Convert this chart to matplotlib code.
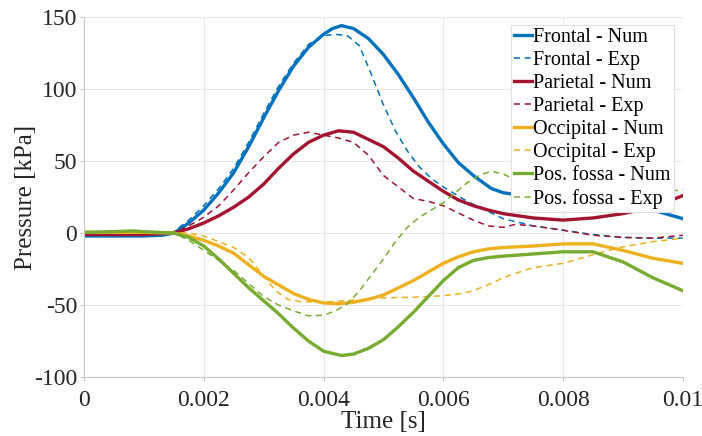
import matplotlib
matplotlib.use("Agg")
import matplotlib.pyplot as plt

plt.rcParams["font.family"] = ["Liberation Serif", "DejaVu Serif"]

COLORS = {
    "frontal": "#0072BD",
    "parietal": "#A2142F",
    "occipital": "#EDB120",
    "fossa": "#77AC30",
}

# ---- data (time in s, pressure in kPa) ----
frontal_num_t = [0, 0.0005, 0.001, 0.0013, 0.0015, 0.00175, 0.002, 0.00225, 0.0025, 0.00275,
                 0.003, 0.00325, 0.0035, 0.00375, 0.004, 0.00415, 0.0043, 0.0045, 0.00475, 0.005,
                 0.00525, 0.0055, 0.00575, 0.006, 0.00625, 0.0065, 0.0068, 0.007, 0.0075, 0.008,
                 0.0085, 0.009, 0.0095, 0.01]
frontal_num_p = [-2, -2, -2, -1.5, 0, 7, 16, 28, 42, 60,
                 80, 99, 116, 129, 138, 142, 144, 142, 135, 124,
                 110, 94, 77, 62, 49, 40, 31, 28, 25, 22,
                 20.5, 19, 16, 10]

frontal_exp_t = [0, 0.0005, 0.001, 0.0013, 0.0015, 0.00175, 0.002, 0.00225, 0.0025, 0.00275,
                 0.003, 0.00325, 0.0035, 0.00375, 0.004, 0.0042, 0.0044, 0.0046, 0.0048, 0.005,
                 0.0052, 0.0054, 0.0056, 0.0058, 0.006, 0.0062, 0.0064, 0.0066, 0.0068, 0.007,
                 0.0072, 0.0075, 0.008, 0.0085, 0.009, 0.0095, 0.01]
frontal_exp_p = [-1, -1, -1.5, -1, 1, 9, 19, 31, 45, 63,
                 83, 102, 118, 131, 137, 138, 137, 130, 110, 89,
                 71, 57, 46, 38, 32, 27, 22, 18, 14, 10,
                 8, 5, 2, -1, -3, -3.5, -3.5]

parietal_num_t = [0, 0.0005, 0.001, 0.0015, 0.00175, 0.002, 0.00225, 0.0025, 0.00275, 0.003,
                  0.00325, 0.0035, 0.00375, 0.004, 0.00425, 0.0045, 0.00475, 0.005, 0.00525, 0.0055,
                  0.00575, 0.006, 0.00625, 0.0065, 0.00675, 0.007, 0.0075, 0.008, 0.0085, 0.009,
                  0.0095, 0.01]
parietal_num_p = [-1, -1, -1, 0, 3, 7, 12, 18, 25, 34,
                  45, 55, 63, 68, 71, 70, 65, 60, 52, 43,
                  36, 29, 23, 19, 16, 13.5, 10.5, 9, 10.5, 13.5,
                  18, 26]

parietal_exp_t = [0, 0.0005, 0.001, 0.0015, 0.00175, 0.002, 0.00225, 0.0025, 0.00275, 0.003,
                  0.00325, 0.0035, 0.00375, 0.004, 0.00425, 0.0045, 0.00475, 0.005, 0.00525, 0.0055,
                  0.00575, 0.006, 0.00625, 0.0065, 0.00675, 0.007, 0.0072, 0.0075, 0.008, 0.0085,
                  0.009, 0.0095, 0.01]
parietal_exp_p = [-1, -1, -1, 0, 5, 11, 19, 30, 42, 53,
                  63, 68, 70, 68, 66, 63, 54, 40, 32, 24,
                  22, 19, 14, 9, 5, 4, 6, 5, 2, -1.5,
                  -3, -3.5, -1.5]

occipital_num_t = [0, 0.0005, 0.001, 0.0015, 0.00175, 0.002, 0.00225, 0.0025, 0.00275, 0.003,
                   0.00325, 0.0035, 0.00375, 0.004, 0.00425, 0.0045, 0.00475, 0.005, 0.00525, 0.0055,
                   0.00575, 0.006, 0.00625, 0.0065, 0.00675, 0.007, 0.0075, 0.008, 0.0085, 0.009,
                   0.0095, 0.01]
occipital_num_p = [0.5, 0.5, 0.5, 0, -2, -5, -9, -14, -22, -30,
                   -36, -42, -46, -48.5, -49, -48, -46, -43, -38, -33,
                   -27, -21, -16.5, -13, -11, -10, -9, -7.5, -7.5, -12,
                   -17.5, -21]

occipital_exp_t = [0, 0.0005, 0.001, 0.0015, 0.00175, 0.002, 0.00225, 0.0025, 0.00275, 0.003,
                   0.0032, 0.0034, 0.0036, 0.004, 0.0045, 0.005, 0.0055, 0.006, 0.0063, 0.0065,
                   0.0068, 0.007, 0.0072, 0.0075, 0.008, 0.0085, 0.009, 0.0095, 0.01]
occipital_exp_p = [0.5, 0.5, 0.5, 0.5, 0, -2, -6, -10, -17, -30,
                   -40, -46, -47.5, -48, -46.5, -45, -44.5, -43.5, -42, -40,
                   -35, -31, -28, -24, -21, -15, -9.5, -6, -3.5]

fossa_num_t = [0, 0.0005, 0.0008, 0.001, 0.0015, 0.00175, 0.002, 0.00225, 0.0025, 0.00275,
               0.003, 0.00325, 0.0035, 0.00375, 0.004, 0.0043, 0.0045, 0.00475, 0.005, 0.00525,
               0.0055, 0.00575, 0.006, 0.00625, 0.0065, 0.00675, 0.007, 0.0075, 0.008, 0.0085,
               0.009, 0.0095, 0.01]
fossa_num_p = [0.5, 1, 1.5, 1, 0, -3, -9, -18, -28, -38,
               -47, -56, -66, -75, -82, -85, -84, -80, -74, -65,
               -55, -44, -33, -24, -19, -17, -16, -14.5, -13, -13,
               -20, -31, -40]

fossa_exp_t = [0, 0.0005, 0.001, 0.0015, 0.00175, 0.002, 0.00225, 0.0025, 0.00275, 0.003,
               0.00325, 0.0035, 0.00375, 0.004, 0.0042, 0.0044, 0.0046, 0.0048, 0.005, 0.0052,
               0.0054, 0.0056, 0.0058, 0.006, 0.0062, 0.0064, 0.0066, 0.0068, 0.007, 0.0072,
               0.0075, 0.008, 0.0085, 0.009, 0.0095, 0.01]
fossa_exp_p = [0.5, 1, 1, 0, -5, -12, -19, -26, -35, -44,
               -50, -54, -57.5, -57, -54, -49, -40, -29, -18, -6,
               4, 11, 16, 21, 28, 35, 40, 43, 41, 37,
               33, 29, 27, 27, 28, 30]

x_ticks = [0, 0.002, 0.004, 0.006, 0.008, 0.01]
x_tick_labels = ["0", "0.002", "0.004", "0.006", "0.008", "0.01"]
y_ticks = [-100, -50, 0, 50, 100, 150]
y_tick_labels = ["-100", "-50", "0", "50", "100", "150"]

series = [
    (frontal_num_t, frontal_num_p, "frontal", "-", "Frontal - Num"),
    (frontal_exp_t, frontal_exp_p, "frontal", "--", "Frontal - Exp"),
    (parietal_num_t, parietal_num_p, "parietal", "-", "Parietal - Num"),
    (parietal_exp_t, parietal_exp_p, "parietal", "--", "Parietal - Exp"),
    (occipital_num_t, occipital_num_p, "occipital", "-", "Occipital - Num"),
    (occipital_exp_t, occipital_exp_p, "occipital", "--", "Occipital - Exp"),
    (fossa_num_t, fossa_num_p, "fossa", "-", "Pos. fossa - Num"),
    (fossa_exp_t, fossa_exp_p, "fossa", "--", "Pos. fossa - Exp"),
]

fig = plt.figure(figsize=(7.02, 4.36), dpi=100)
ax = fig.add_axes([0.1197, 0.135, 0.853, 0.826])

for t, p, key, ls, label in series:
    if ls == "-":
        ax.plot(t, p, color=COLORS[key], linestyle="-", linewidth=2.4, label=label)
    else:
        ax.plot(t, p, color=COLORS[key], linestyle=(0, (4, 3)), linewidth=1.1, label=label)

ax.set_xlim(0, 0.01)
ax.set_ylim(-100, 150)
ax.set_xticks(x_ticks)
ax.set_xticklabels(x_tick_labels)
ax.set_yticks(y_ticks)
ax.set_yticklabels(y_tick_labels)
ax.tick_params(labelsize=17, labelcolor="#262626", length=3, width=0.6, color="#bbbbbb", pad=2)
ax.tick_params(axis="x", pad=6)
ax.grid(True, color="#e8e8e8", linewidth=0.8)
ax.set_axisbelow(True)
for side in ["top", "right"]:
    ax.spines[side].set_visible(False)
for side in ["left", "bottom"]:
    ax.spines[side].set_color("#c8c8c8")
    ax.spines[side].set_linewidth(0.8)

ax.set_xlabel("Time [s]", fontsize=18, color="#262626", labelpad=0.5)
ax.set_ylabel("Pressure [kPa]", fontsize=18, color="#262626", labelpad=-2)

leg = ax.legend(loc="upper right", bbox_to_anchor=(0.9845, 0.979), fontsize=14.5,
                handlelength=0.9, handletextpad=0.05, labelspacing=0.2,
                borderpad=0.15, borderaxespad=0.0, fancybox=False, framealpha=1.0)
leg.get_frame().set_edgecolor("#e0e0e0")
leg.get_frame().set_linewidth(0.8)

fig.savefig("out.png", dpi=100, facecolor="white")
